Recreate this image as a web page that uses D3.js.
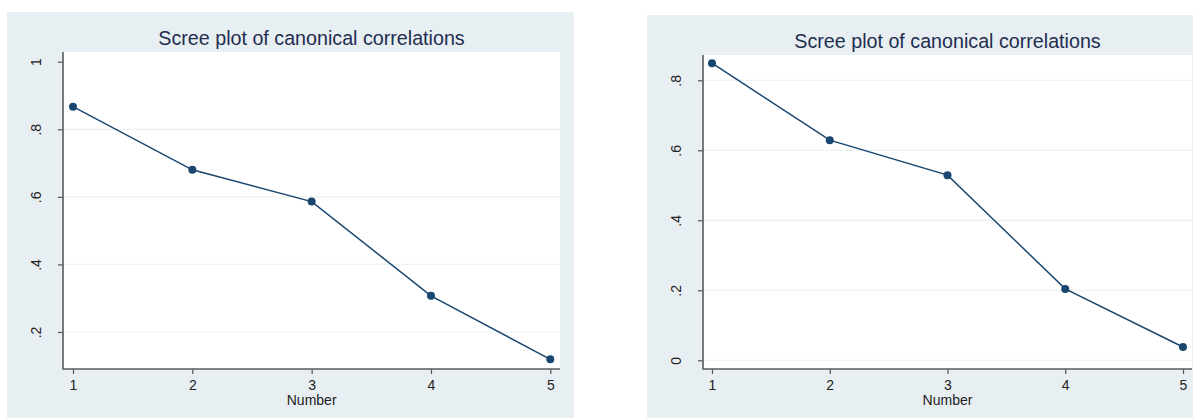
<!DOCTYPE html>
<html><head><meta charset="utf-8">
<script src="https://cdn.jsdelivr.net/npm/d3@7"></script>
<style>body{margin:0;background:#fff;} svg{display:block;font-family:"Liberation Sans",Arial,sans-serif;}</style>
</head><body>
<script>
const numbers = [1, 2, 3, 4, 5];
const leftValues = [0.867, 0.680, 0.586, 0.307, 0.119];
const rightValues = [0.849, 0.629, 0.529, 0.204, 0.038];
const leftTicks = [0.2, 0.4, 0.6, 0.8, 1];
const leftTickLabels = [".2", ".4", ".6", ".8", "1"];
const rightTicks = [0, 0.2, 0.4, 0.6, 0.8];
const rightTickLabels = ["0", ".2", ".4", ".6", ".8"];
const titleText = "Scree plot of canonical correlations";
const xTitle = "Number";

const svg = d3.select("body").append("svg").attr("width", 1193).attr("height", 418);

function panel(o) {
  const g = svg.append("g");
  g.append("rect").attr("x", o.bx).attr("y", o.by).attr("width", o.bw).attr("height", 418 - o.by).attr("fill", "#e8eff2");
  g.append("rect").attr("x", o.px0).attr("y", o.py0).attr("width", o.px1 - o.px0).attr("height", o.py1 - o.py0).attr("fill", "#fff");
  const x = d3.scaleLinear().domain([1, 5]).range(o.xr);
  const y = d3.scaleLinear().domain(o.yd).range(o.yr);
  // gridlines
  g.selectAll(".grid").data(o.ticks.filter(t => o.grid.includes(t))).enter().append("line")
    .attr("x1", o.px0).attr("x2", o.px1).attr("y1", d => y(d)).attr("y2", d => y(d))
    .attr("stroke", "#eaf2f3").attr("stroke-width", 1.2);
  // y axis
  const ya = d3.axisLeft(y).tickValues(o.ticks).tickSize(5).tickFormat((d, i) => o.labels[i]);
  const yg = g.append("g").attr("transform", `translate(${o.px0},0)`).call(ya);
  yg.select(".domain").remove();
  yg.selectAll(".tick line").attr("stroke", "#555").attr("stroke-width", 1.2);
  yg.selectAll(".tick text").attr("x", null).attr("dy", null)
    .attr("transform", "translate(-27,0) rotate(-90)")
    .attr("text-anchor", "middle").attr("dominant-baseline", "central")
    .attr("font-size", 14).attr("fill", "#222");
  g.append("line").attr("x1", o.px0).attr("x2", o.px0).attr("y1", o.py0).attr("y2", o.py1 + 0.5).attr("stroke", "#5a5a5a").attr("stroke-width", 1.6);
  // x axis
  const xa = d3.axisBottom(x).tickValues(numbers).tickSize(5).tickFormat(d3.format("d"));
  const xg = g.append("g").attr("transform", `translate(0,${o.py1})`).call(xa);
  xg.select(".domain").remove();
  xg.selectAll(".tick line").attr("stroke", "#555").attr("stroke-width", 1.2);
  xg.selectAll(".tick text").attr("y", 21).attr("dy", null).attr("font-size", 14).attr("fill", "#222");
  g.append("line").attr("x1", o.px0).attr("x2", o.px1).attr("y1", o.py1).attr("y2", o.py1).attr("stroke", "#5a5a5a").attr("stroke-width", 1.6);
  g.append("text").attr("x", x(3)).attr("y", o.py1 + 36).attr("text-anchor", "middle").attr("font-size", 14).attr("fill", "#222").text(xTitle);
  // title
  g.append("text").attr("x", (o.px0 + o.px1) / 2).attr("y", o.by + 33).attr("text-anchor", "middle")
    .attr("font-size", 19.7).attr("fill", "#1f2d50").text(titleText);
  // line & points
  const pts = numbers.map((n, i) => [n, o.values[i]]);
  g.append("path").datum(pts).attr("fill", "none").attr("stroke", "#1a476f").attr("stroke-width", 1.5)
    .attr("d", d3.line().x(d => x(d[0])).y(d => y(d[1])));
  g.selectAll(".pt").data(pts).enter().append("circle")
    .attr("cx", d => x(d[0])).attr("cy", d => y(d[1])).attr("r", 4).attr("fill", "#1a476f");
}

panel({bx: 7, by: 12, bw: 567, px0: 63, px1: 560, py0: 52, py1: 369,
  xr: [73, 550.3], yd: [0.2, 1], yr: [332, 61.7],
  ticks: leftTicks, labels: leftTickLabels, grid: [0.2, 0.4, 0.6, 0.8], values: leftValues});
panel({bx: 647, by: 15, bw: 546, px0: 703, px1: 1192, py0: 55, py1: 369,
  xr: [712, 1183], yd: [0, 0.8], yr: [360.3, 80.3],
  ticks: rightTicks, labels: rightTickLabels, grid: [0, 0.2, 0.4, 0.6, 0.8], values: rightValues});
</script>
</body></html>
